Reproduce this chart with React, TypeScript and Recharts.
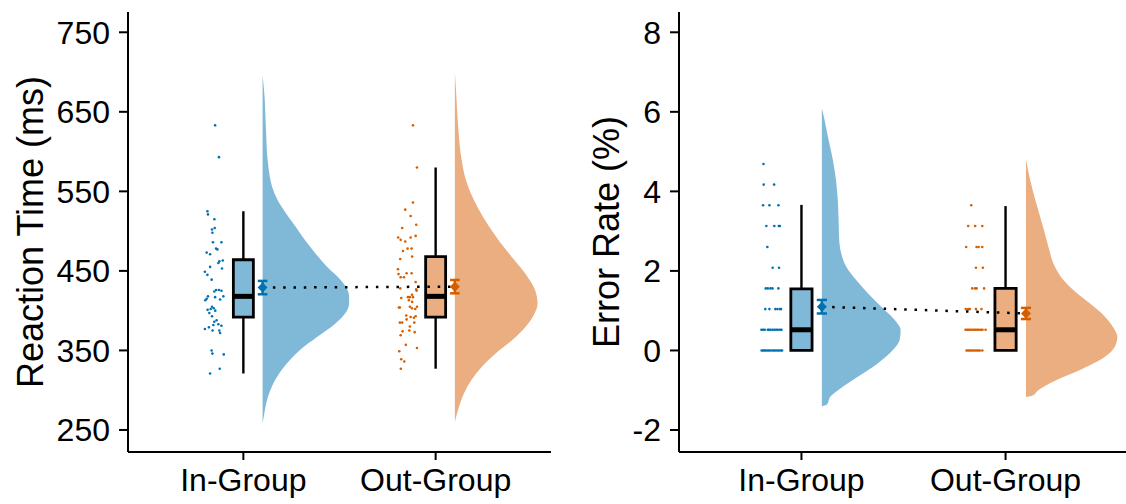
import React from 'react';
import { ComposedChart, Scatter, XAxis, YAxis, Label } from 'recharts';

const GROUPS = ['In-Group', 'Out-Group'];

const BLUE = '#0072B2';
const ORANGE = '#D55E00';
const BLUE_SOFT = '#80B8D8';
const ORANGE_SOFT = '#EAAE80';

const RT_TICKS = [250, 350, 450, 550, 650, 750];
const ER_TICKS = [-2, 0, 2, 4, 6, 8];

// reaction time (ms), one dot per participant, with its horizontal jitter
const rtIn = [633, 593, 525, 521, 515, 502, 498, 504, 486, 486, 478, 477, 473, 471, 463, 462, 460, 453, 449, 445, 455, 439, 424, 426, 426, 425, 417, 418, 414, 415, 413, 418, 405, 403, 402, 400, 401, 397, 393, 386, 388, 383, 381, 382, 379, 377, 375, 375, 372, 350, 346, 345, 321, 327];
const rtInJitter = [-0.147, -0.127, -0.187, -0.184, -0.151, -0.163, -0.161, -0.149, -0.158, -0.114, -0.142, -0.135, -0.191, -0.173, -0.107, -0.125, -0.13, -0.111, -0.2, -0.187, -0.173, -0.165, -0.151, -0.142, -0.127, -0.114, -0.147, -0.104, -0.121, -0.191, -0.198, -0.184, -0.163, -0.154, -0.17, -0.146, -0.186, -0.177, -0.163, -0.151, -0.139, -0.13, -0.114, -0.156, -0.179, -0.2, -0.16, -0.125, -0.121, -0.165, -0.161, -0.102, -0.173, -0.123];
const rtOut = [633, 580, 536, 527, 519, 504, 508, 492, 489, 487, 492, 494, 478, 478, 475, 468, 465, 447, 447, 452, 446, 442, 442, 436, 427, 425, 428, 416, 417, 417, 420, 417, 413, 411, 404, 404, 405, 403, 402, 405, 394, 389, 392, 391, 393, 385, 385, 385, 380, 375, 374, 373, 369, 357, 353, 349, 339, 336, 327];
const rtOutJitter = [-0.118, -0.097, -0.118, -0.158, -0.13, -0.174, -0.101, -0.195, -0.182, -0.158, -0.13, -0.104, -0.146, -0.125, -0.17, -0.122, -0.184, -0.151, -0.125, -0.196, -0.193, -0.182, -0.165, -0.104, -0.101, -0.099, -0.184, -0.179, -0.144, -0.134, -0.123, -0.118, -0.139, -0.122, -0.191, -0.186, -0.134, -0.123, -0.106, -0.097, -0.153, -0.151, -0.13, -0.113, -0.104, -0.186, -0.174, -0.111, -0.134, -0.137, -0.172, -0.109, -0.182, -0.155, -0.097, -0.189, -0.179, -0.163, -0.181];

// error rate (%)
const erIn = [4.69, 4.17, 4.17, 3.65, 3.65, 3.65, 3.13, 3.13, 3.13, 3.13, 2.6, 2.08, 2.08, 1.56, 1.56, 1.56, 1.56, 1.56, 1.04, 1.04, 1.04, 1.04, 1.04, 1.04, 0.52, 0.52, 0.52, 0.52, 0.52, 0.52, 0.52, 0.52, 0.52, 0.52, 0.52, 0.52, 0, 0, 0, 0, 0, 0, 0, 0, 0, 0, 0, 0, 0, 0];
const erInJitter = [-0.186, -0.185, -0.134, -0.188, -0.157, -0.113, -0.172, -0.133, -0.111, -0.106, -0.167, -0.141, -0.11, -0.175, -0.165, -0.152, -0.142, -0.113, -0.177, -0.157, -0.128, -0.118, -0.106, -0.1, -0.196, -0.188, -0.18, -0.165, -0.159, -0.151, -0.142, -0.133, -0.124, -0.116, -0.106, -0.098, -0.195, -0.188, -0.182, -0.175, -0.167, -0.159, -0.151, -0.142, -0.134, -0.126, -0.118, -0.11, -0.101, -0.095];
const erOut = [3.65, 3.13, 3.13, 3.13, 2.6, 2.6, 2.6, 2.6, 2.08, 2.08, 1.56, 1.56, 1.56, 1.56, 1.04, 1.04, 1.04, 1.04, 1.04, 0.52, 0.52, 0.52, 0.52, 0.52, 0.52, 0.52, 0.52, 0.52, 0.52, 0.52, 0.52, 0, 0, 0, 0, 0, 0, 0, 0, 0, 0];
const erOutJitter = [-0.168, -0.183, -0.149, -0.114, -0.193, -0.142, -0.132, -0.114, -0.145, -0.111, -0.163, -0.149, -0.142, -0.105, -0.195, -0.183, -0.175, -0.145, -0.118, -0.196, -0.188, -0.18, -0.172, -0.163, -0.155, -0.147, -0.139, -0.131, -0.121, -0.113, -0.098, -0.191, -0.183, -0.175, -0.167, -0.159, -0.15, -0.142, -0.134, -0.126, -0.114];

// half-violin outlines: level and density width (in category units)
const rtInVioY = [696, 673, 631, 590, 569, 556, 539, 522, 506, 489, 472, 455, 439, 428, 418, 409, 397, 384, 367, 351, 334, 317, 300, 284, 271, 258];
const rtInVioW = [0, 0.009, 0.017, 0.026, 0.037, 0.049, 0.078, 0.123, 0.17, 0.219, 0.275, 0.336, 0.405, 0.438, 0.45, 0.45, 0.431, 0.379, 0.283, 0.196, 0.127, 0.075, 0.04, 0.019, 0.009, 0];
const rtOutVioY = [700, 673, 631, 590, 569, 548, 527, 506, 485, 464, 443, 426, 409, 393, 380, 363, 346, 330, 313, 296, 279, 260];
const rtOutVioW = [0, 0.007, 0.017, 0.035, 0.052, 0.082, 0.125, 0.177, 0.238, 0.308, 0.377, 0.417, 0.43, 0.407, 0.369, 0.299, 0.212, 0.143, 0.087, 0.047, 0.021, 0];
const erInVioY = [6.09, 5.8, 5.29, 4.79, 4.29, 3.78, 3.28, 2.78, 2.44, 2.11, 1.77, 1.44, 1.1, 0.77, 0.51, 0.26, 0.01, -0.32, -0.66, -0.91, -1.16, -1.36, -1.4];
const erInVioW = [0, 0.013, 0.033, 0.054, 0.069, 0.078, 0.082, 0.085, 0.095, 0.119, 0.168, 0.225, 0.291, 0.356, 0.386, 0.381, 0.348, 0.275, 0.176, 0.103, 0.042, 0.025, 0];
const erOutVioY = [4.81, 4.54, 4.03, 3.53, 3.03, 2.53, 2.19, 1.86, 1.52, 1.18, 0.85, 0.51, 0.35, 0.1, -0.16, -0.49, -0.74, -1.0, -1.14, -1.17];
const erOutVioW = [0, 0.01, 0.033, 0.06, 0.088, 0.114, 0.134, 0.17, 0.232, 0.314, 0.387, 0.436, 0.448, 0.436, 0.387, 0.265, 0.15, 0.06, 0.03, 0];

// box: [lower whisker, q1, median, q3, upper whisker]
const rtInBox = [321, 392, 418, 464, 525];
const rtOutBox = [327, 392, 418, 468, 580];
const erInBox = [0, 0, 0.52, 1.55, 3.66];
const erOutBox = [0, 0, 0.52, 1.56, 3.63];

// [mean, standard error]
const rtInMean = [429, 8.4];
const rtOutMean = [430.2, 8.4];
const erInMean = [1.1, 0.17];
const erOutMean = [0.93, 0.14];

const AXIS = { stroke: '#000', strokeWidth: 2 };
const WHISKER = { stroke: '#000', strokeWidth: 2.4 };

const noShape = () => <g />;
const dotShape = (color: string) => (p: any) => <circle cx={p.cx} cy={p.cy} r={1.3} fill={color} />;
const diamondShape = (color: string) => (p: any) => (
  <polygon
    points={`${p.cx},${p.cy - 5} ${p.cx + 5},${p.cy} ${p.cx},${p.cy + 5} ${p.cx - 5},${p.cy}`}
    fill={color}
  />
);

function path(key: string, data: { x: number; y: number }[], style: any, joint: any = 'linear') {
  return (
    <Scatter
      key={key}
      data={data}
      shape={noShape}
      line={style}
      lineType="joint"
      lineJointType={joint}
      isAnimationActive={false}
    />
  );
}

function cloud(id: string, cat: number, color: string, soft: string, values: number[], jitter: number[], vioY: number[], vioW: number[], box: number[]) {
  const base = cat + 0.1;
  const hw = 0.052;
  const [lo, q1, med, q3, hi] = box;
  const items = [
    path(`${id}-vio`, vioY.map((y, i) => ({ x: base + vioW[i], y })), { fill: soft, stroke: 'none' }, 'monotoneY'),
    <Scatter
      key={`${id}-pts`}
      data={values.map((y, i) => ({ x: cat + jitter[i], y }))}
      shape={dotShape(color)}
      isAnimationActive={false}
    />,
    path(`${id}-wh-hi`, [{ x: cat, y: q3 }, { x: cat, y: hi }], WHISKER),
  ];
  if (lo < q1) items.push(path(`${id}-wh-lo`, [{ x: cat, y: lo }, { x: cat, y: q1 }], WHISKER));
  items.push(
    path(
      `${id}-box`,
      [
        { x: cat - hw, y: q1 },
        { x: cat + hw, y: q1 },
        { x: cat + hw, y: q3 },
        { x: cat - hw, y: q3 },
        { x: cat - hw, y: q1 },
        { x: cat + hw, y: q1 },
      ],
      { fill: soft, stroke: '#000', strokeWidth: 2.8, strokeLinejoin: 'miter' },
    ),
    path(`${id}-med`, [{ x: cat - hw, y: med }, { x: cat + hw, y: med }], { stroke: '#000', strokeWidth: 5 }),
  );
  return items;
}

function meanMark(id: string, cat: number, color: string, mean: number[]) {
  const base = cat + 0.1;
  const [m, se] = mean;
  const style = { stroke: color, strokeWidth: 2.5 };
  return [
    path(`${id}-eb`, [{ x: base, y: m - se }, { x: base, y: m + se }], style),
    path(`${id}-cap-lo`, [{ x: base - 0.025, y: m - se }, { x: base + 0.025, y: m - se }], style),
    path(`${id}-cap-hi`, [{ x: base - 0.025, y: m + se }, { x: base + 0.025, y: m + se }], style),
    <Scatter key={`${id}-mean`} data={[{ x: base, y: m }]} shape={diamondShape(color)} isAnimationActive={false} />,
  ];
}

const axisTitle = (text: string, dx: number) => (props: any) => {
  const vb = props.viewBox ?? { x: 0, y: 12, width: 0, height: 440 };
  const cx = vb.x + dx;
  const cy = vb.y + vb.height / 2;
  return (
    <text
      x={cx}
      y={cy}
      transform={`rotate(-90 ${cx} ${cy})`}
      textAnchor="middle"
      dominantBaseline="central"
      fontSize={36}
      fill="#000"
    >
      {text}
    </text>
  );
};

function Panel({ width, axisWidth, right, domain, ticks, title, titleX, children }: any) {
  return (
    <ComposedChart width={width} height={504} margin={{ top: 12, right, bottom: 0, left: 0 }}>
      <XAxis
        type="number"
        dataKey="x"
        domain={[0.4, 2.6]}
        ticks={[1, 2]}
        interval={0}
        allowDataOverflow
        tickFormatter={(v: number) => GROUPS[Math.round(v) - 1]}
        height={52}
        tickSize={8}
        tickMargin={8}
        tick={{ fontSize: 32, fill: '#000' }}
        axisLine={AXIS}
        tickLine={AXIS}
      />
      <YAxis
        type="number"
        dataKey="y"
        domain={domain}
        ticks={ticks}
        interval={0}
        allowDataOverflow
        width={axisWidth}
        tickSize={9}
        tickMargin={9}
        tick={{ fontSize: 32, fill: '#000' }}
        axisLine={AXIS}
        tickLine={AXIS}
      >
        <Label content={axisTitle(title, titleX)} />
      </YAxis>
      {children}
    </ComposedChart>
  );
}

export default function App() {
  return (
    <div
      style={{
        position: 'absolute',
        left: 0,
        top: 0,
        width: 1126,
        height: 504,
        overflow: 'hidden',
        background: '#fff',
        fontFamily: '"Liberation Sans", Arial, sans-serif',
      }}
    >
      <div style={{ position: 'absolute', left: 0, top: 0 }}>
        <Panel width={560} axisWidth={128} right={9} domain={[222.3, 775.5]} ticks={RT_TICKS} title="Reaction Time (ms)" titleX={30}>
          {cloud('rt-in', 1, BLUE, BLUE_SOFT, rtIn, rtInJitter, rtInVioY, rtInVioW, rtInBox)}
          {cloud('rt-out', 2, ORANGE, ORANGE_SOFT, rtOut, rtOutJitter, rtOutVioY, rtOutVioW, rtOutBox)}
          {path('rt-link', [{ x: 1.1, y: rtInMean[0] }, { x: 2.1, y: rtOutMean[0] }], { stroke: '#000', strokeWidth: 2.5, strokeDasharray: '2.5 7.8' })}
          {meanMark('rt-in-m', 1, BLUE, rtInMean)}
          {meanMark('rt-out-m', 2, ORANGE, rtOutMean)}
        </Panel>
      </div>
      <div style={{ position: 'absolute', left: 560, top: 0 }}>
        <Panel width={570} axisWidth={119} right={2} domain={[-2.553, 8.51]} ticks={ER_TICKS} title="Error Rate (%)" titleX={46}>
          {cloud('er-in', 1, BLUE, BLUE_SOFT, erIn, erInJitter, erInVioY, erInVioW, erInBox)}
          {cloud('er-out', 2, ORANGE, ORANGE_SOFT, erOut, erOutJitter, erOutVioY, erOutVioW, erOutBox)}
          {path('er-link', [{ x: 1.1, y: erInMean[0] }, { x: 2.1, y: erOutMean[0] }], { stroke: '#000', strokeWidth: 2.5, strokeDasharray: '2.5 7.8' })}
          {meanMark('er-in-m', 1, BLUE, erInMean)}
          {meanMark('er-out-m', 2, ORANGE, erOutMean)}
        </Panel>
      </div>
    </div>
  );
}
